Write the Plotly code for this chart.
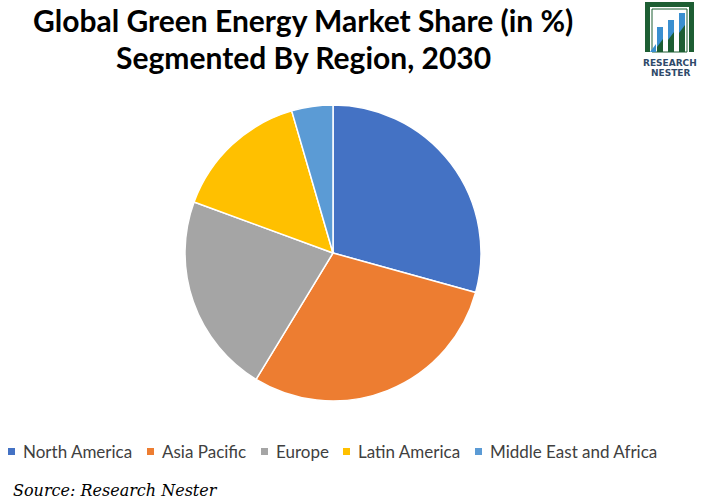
import plotly.graph_objects as go

regions = ["North America", "Asia Pacific", "Europe", "Latin America", "Middle East and Africa"]
shares = [29.3, 29.4, 21.9, 14.9, 4.5]
colors = ["#4472C4", "#ED7D31", "#A5A5A5", "#FFC000", "#5B9BD5"]

W, H = 703, 501

def px(x):
    return x / W

def py(y):
    return 1 - y / H

fig = go.Figure()
fig.add_trace(go.Pie(
    labels=regions, values=shares, sort=False, direction="clockwise", rotation=0,
    marker=dict(colors=colors, line=dict(color="white", width=1.5)),
    textinfo="none", hoverinfo="label+percent", showlegend=False,
    domain=dict(x=[px(185), px(481)], y=[py(401), py(105)]),
))

shapes = []
annotations = []
green = "#1d5e33"
# logo frame
shapes.append(dict(type="rect", xref="paper", yref="paper", x0=px(645), x1=px(694), y0=py(52), y1=py(2),
                   line=dict(width=0), fillcolor=green))
shapes.append(dict(type="rect", xref="paper", yref="paper", x0=px(650), x1=px(689), y0=py(52), y1=py(7),
                   line=dict(width=0), fillcolor="white"))
shapes.append(dict(type="rect", xref="paper", yref="paper", x0=px(652), x1=px(687), y0=py(52), y1=py(9),
                   line=dict(color=green, width=1), fillcolor="rgba(0,0,0,0)"))
for (x0, x1, top) in [(657, 663, 27), (668, 674, 20), (679, 685, 13)]:
    shapes.append(dict(type="rect", xref="paper", yref="paper", x0=px(x0), x1=px(x1), y0=py(52), y1=py(top),
                       line=dict(width=0), fillcolor=green))
    shapes.append(dict(type="path", xref="paper", yref="paper",
                       path=f"M {px(x0)},{py(top)} L {px(x1)},{py(top)} L {px(x1)},{py(top+12)} L {px(x0)},{py(top+20)} Z",
                       line=dict(width=0), fillcolor="#3a8fd0"))
shapes.append(dict(type="path", xref="paper", yref="paper",
                   path=f"M {px(650)},{py(52)} L {px(656)},{py(44)} L {px(656)},{py(52)} Z",
                   line=dict(width=0), fillcolor="#3a8fd0"))

# custom legend (one row, tight spacing as in the reference)
legend_square_x = [8, 147, 261, 343, 475]
for name, col, sx in zip(regions, colors, legend_square_x):
    shapes.append(dict(type="rect", xref="paper", yref="paper", x0=px(sx), x1=px(sx + 7),
                       y0=py(455), y1=py(448), line=dict(width=0), fillcolor=col))
    annotations.append(dict(text=name, x=px(sx + 13), y=py(451), xref="paper", yref="paper",
                            xanchor="left", yanchor="middle", showarrow=False,
                            font=dict(family="Lato", size=17, color="#404040")))

title_lines = ["Global Green Energy Market Share (in %)", "Segmented By Region, 2030"]
title_y = [20, 57]
for line, ly in zip(title_lines, title_y):
    annotations.append(dict(text=f"<b>{line}</b>", x=px(303), y=py(ly), xref="paper", yref="paper",
                            xanchor="center", yanchor="middle", showarrow=False,
                            font=dict(family="Lato", size=30, color="black")))

annotations += [
    dict(text="<b>RESEARCH</b>", x=px(670), y=py(63), xref="paper", yref="paper", showarrow=False,
         xanchor="center", yanchor="middle",
         font=dict(family="DejaVu Sans", size=9, color="#2f4a6a")),
    dict(text="<b>NESTER</b>", x=px(670), y=py(73), xref="paper", yref="paper", showarrow=False,
         xanchor="center", yanchor="middle",
         font=dict(family="DejaVu Sans", size=9, color="#2f4a6a")),
    dict(text="<i>Source: Research Nester</i>", x=px(11), y=py(490), xref="paper", yref="paper",
         xanchor="left", yanchor="middle", showarrow=False,
         font=dict(family="DejaVu Serif", size=16, color="black")),
]

fig.update_layout(
    width=W, height=H, margin=dict(l=0, r=0, t=0, b=0),
    paper_bgcolor="white", plot_bgcolor="white",
    showlegend=False,
    shapes=shapes, annotations=annotations,
)

fig.write_html("out.html", config={"displayModeBar": False},
               post_script="document.body.style.margin='0px';")
